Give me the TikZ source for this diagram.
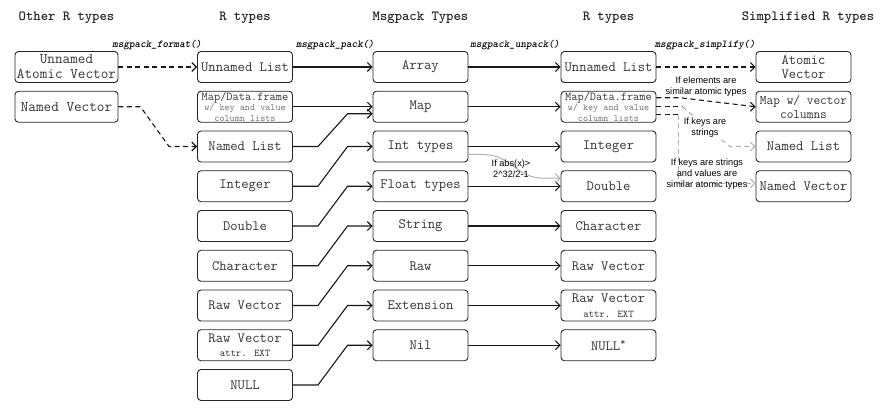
\documentclass[tikz,border=0pt]{standalone}
\usepackage{fontspec}
\setmainfont{Liberation Sans}
\setsansfont{Liberation Sans}
\usetikzlibrary{calc, positioning, arrows.meta}
\def\rowsep{39.75}
\tikzstyle{rbox}=[draw=black!85, line width=0.9pt, rounded corners=3.5pt, minimum width=95pt, minimum height=31pt, inner sep=1pt, align=center, text=black!80, font=\ttfamily\fontsize{14.2}{14.5}\selectfont]
\tikzstyle{wide box}=[rbox, minimum width=103pt, font=\ttfamily\fontsize{14.8}{15}\selectfont]
\tikzstyle{small box}=[rbox, font=\ttfamily\fontsize{9.7}{10.2}\selectfont]
\tikzstyle{header}=[font=\ttfamily\bfseries\fontsize{14}{16}\selectfont, text=black!85]
\tikzstyle{fn label}=[font=\ttfamily\bfseries\itshape\fontsize{10.6}{12}\selectfont, inner sep=0pt]
\tikzstyle{cond}=[font=\sffamily\fontsize{9.2}{11}\selectfont, align=center, inner sep=1pt]
\tikzstyle{dashline}=[line width=1.1pt, black!90, dash pattern=on 5pt off 3.5pt]
\tikzstyle{conn}=[-{Straight Barb[length=4.5pt,width=9pt]}, line width=1.1pt, black!90]
\tikzstyle{dashconn}=[conn, dash pattern=on 5pt off 3.5pt]
\tikzstyle{grayconn}=[dashconn, black!30]

\begin{document}
\begin{tikzpicture}[x=1pt, y=-1pt]
		\useasboundingbox (0,0) rectangle (880,414);

		% Column headers
		\node[header] at (66.5,18) {Other R types};
		\node[header] at (245,18) {R types};
		\node[header] at (420.5,18) {Msgpack Types};
		\node[header] at (608.5,18) {R types};
		\node[header] at (808,18) {Simplified R types};

		% Other R types
		\node[wide box] (o-1) at (66.5,67) {Unnamed\\Atomic Vector};
		\node[wide box] (o-2) at (66.5,{67+\rowsep}) {Named Vector};

		% R types
		\foreach \i/\txt in {1/Unnamed List, 3/Named List, 4/Integer, 5/Double, 6/Character, 7/Raw Vector, 9/NULL}
		\node[rbox] (r-\i) at (245,{67+\rowsep*(\i-1)}) {\txt};
		\node[small box] (r-2) at (245,{67+\rowsep}) {{\fontsize{12}{10.2}\selectfont Map/Data.frame}\\{\color{black!55}w/ key and value}\\{\color{black!55}column lists}};
		\node[rbox] (r-8) at (245,{67+\rowsep*7}) {Raw Vector\\{\fontsize{10.3}{11}\selectfont attr. EXT}};

		% Msgpack types
		\foreach \i/\txt in {1/Array, 2/Map, 3/Int types, 4/Float types, 5/String, 6/Raw, 7/Extension, 8/Nil}
		\node[rbox] (m-\i) at (420.5,{67+\rowsep*(\i-1)}) {\txt};

		% R types after unpacking
		\foreach \i/\txt in {1/Unnamed List, 3/Integer, 4/Double, 5/Character, 6/Raw Vector, 8/NULL\textsuperscript{*}}
		\node[rbox] (u-\i) at (608.5,{67+\rowsep*(\i-1)}) {\txt};
		\node[small box] (u-2) at (608.5,{67+\rowsep}) {{\fontsize{12}{10.2}\selectfont Map/Data.frame}\\{\color{black!55}w/ key and value}\\{\color{black!55}column lists}};
		\node[rbox] (u-7) at (608.5,{67+\rowsep*6}) {Raw Vector\\{\fontsize{10.3}{11}\selectfont attr. EXT}};

		% Simplified R types
		\node[rbox] (s-1) at (803.5,67) {Atomic\\Vector};
		\node[rbox, font=\ttfamily\fontsize{13}{14}\selectfont] (s-2) at (803.5,{67+\rowsep}) {Map w/ vector\\columns};
		\node[rbox] (s-3) at (803.5,{67+\rowsep*2}) {Named List};
		\node[rbox] (s-4) at (803.5,{67+\rowsep*3}) {Named Vector};

		% Function names
		\node[fn label] at (157,45) {msgpack\_format()};
		\node[fn label] at (335,45) {msgpack\_pack()};
		\node[fn label] at (515,45) {msgpack\_unpack()};
		\node[fn label] at (705,45) {msgpack\_simplify()};

		% msgpack_format()
		\draw[dashconn] (o-1) -- (r-1);
		\draw[dashconn] (o-2.east) -- ++(22,0) -- ($(r-3.west)+(-28,0)$) -- (r-3.west);

		% msgpack_pack()
		\draw[conn] (r-1) -- (m-1);
		\draw[conn] (r-2) -- (m-2);
		\draw[conn] (r-3.east) -- ++(25,0) -- ($(m-2.west)+(-25,7)$) -- ($(m-2.west)+(0,7)$);
		\foreach \source/\dest in {4/3, 5/4, 6/5, 7/6, 8/7, 9/8}
		\draw[conn] (r-\source.east) -- ++(25,0) -- ($(m-\dest.west)+(-25,0)$) -- (m-\dest.west);

		% msgpack_unpack()
		\foreach \i in {1,...,8}
		\draw[conn] (m-\i) -- (u-\i);
		\draw[conn, black!30, line width=1pt] ($(m-3.east)+(0,8)$) -- ++(14,0) .. controls +(30,0) and +(-30,0) .. ($(u-4.west)+(-16,-8)$) -- ($(u-4.west)+(0,-8)$);
		\node[cond] (big) at (511,169) {If abs(x)>\\2\textasciicircum32/2-1};

		% msgpack_simplify()
		\draw[dashconn] (u-1) -- (s-1);
		\node[cond] (elem) at (706,87) {If elements are\\similar atomic types};
		\draw[dashline] ($(u-2.east)+(0,-9)$) -- ++(24,0) -- (s-2.west);
		\draw[-{Straight Barb[length=4.5pt,width=9pt]}, line width=1.1pt, black!90] ($(s-2.west)+(-2,0)$) -- (s-2.west);
		\draw[dashline] (u-2.east) -- ++(26,0) coordinate (k-1);
		\draw[grayconn] (k-1) -- ($(s-3.west)+(-26,0)$) -- (s-3.west);
		\node[cond, fill=white] (keys) at (705,128) {If keys are\\strings};
		\draw[dashline] ($(u-2.east)+(0,8)$) -- ++(22,0) coordinate (k-2);
		\draw[grayconn] (k-2) -- ($(k-2 |- s-4.west)+(0,-3)$) -- ($(s-4.west)+(0,-3)$);
		\node[cond] (vals) at (707,174) {If keys are strings\\and values are\\similar atomic types};
	\end{tikzpicture}
\end{document}
